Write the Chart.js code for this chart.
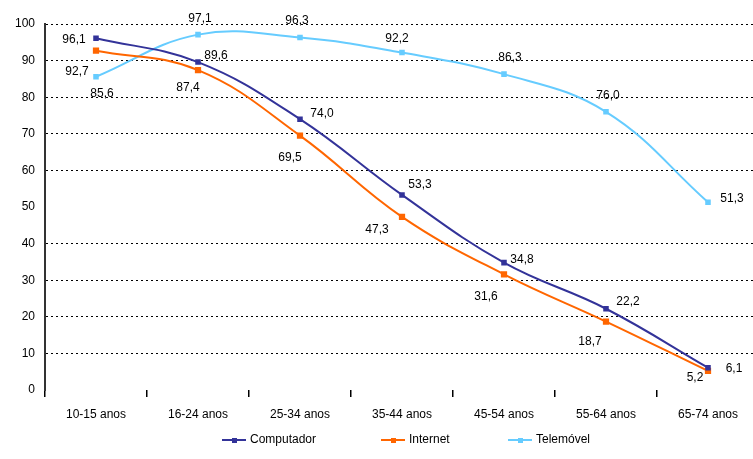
<!DOCTYPE html>
<html>
<head>
<meta charset="utf-8">
<script src="https://cdn.jsdelivr.net/npm/chart.js@4/dist/chart.umd.min.js"></script>
<style>
  html, body { margin: 0; padding: 0; background: #fff; overflow: hidden; }
  .chart { position: absolute; left: 0; top: 0; width: 765px; height: 459px; }
</style>
</head>
<body>
<div class='chart'><canvas id='chart'></canvas></div>
<script>
const categories = ['10-15 anos', '16-24 anos', '25-34 anos', '35-44 anos', '45-54 anos', '55-64 anos', '65-74 anos']
const computador = [96.1, 89.6, 74.0, 53.3, 34.8, 22.2, 6.1]
const internet = [92.7, 87.4, 69.5, 47.3, 31.6, 18.7, 5.2]
const telemovel = [85.6, 97.1, 96.3, 92.2, 86.3, 76.0, 51.3]
const seriesNames = ['Computador', 'Internet', 'Telemóvel']
const yTicks = [0, 10, 20, 30, 40, 50, 60, 70, 80, 90, 100]

const font = "'Liberation Sans', Arial, sans-serif"
const colors = ['#333399', '#ff6600', '#66ccff']

// label offsets from each point, per series
const labelOffsets = [
  [[-22, 1], [18, -6], [22, -5], [18, -10], [18, -3], [22, -7], [26, 1]],
  [[-19, 21], [-10, 18], [-10, 22], [-25, 13], [-18, 22], [-16, 20], [-13, 7]],
  [[6, 17], [2, -16], [-3, -17], [-5, -14], [6, -16], [2, -16], [24, -4]],
]

const fmt = (v) => v.toFixed(1).replace('.', ',')

const dataLabels = {
  id: 'dataLabels',
  afterDatasetsDraw(chart) {
    const c = chart.ctx
    c.save()
    c.font = '12px ' + font
    c.fillStyle = '#000'
    c.textAlign = 'center'
    c.textBaseline = 'middle'
    chart.data.datasets.forEach((ds, i) => {
      chart.getDatasetMeta(i).data.forEach((pt, j) => {
        const [dx, dy] = labelOffsets[i][j]
        c.fillText(fmt(ds.data[j]), pt.x + dx, pt.y + dy)
      })
    })
    c.restore()
  },
}

const legendPos = [222, 381, 508]
const bottomLegend = {
  id: 'bottomLegend',
  afterDraw(chart) {
    const c = chart.ctx
    const y = 440
    c.save()
    c.font = '12px ' + font
    c.textBaseline = 'middle'
    c.fillStyle = '#000'
    chart.data.datasets.forEach((ds, i) => {
      const x = legendPos[i]
      c.strokeStyle = ds.borderColor
      c.lineWidth = 2
      c.beginPath()
      c.moveTo(x, y)
      c.lineTo(x + 24, y)
      c.stroke()
      c.fillStyle = ds.borderColor
      c.fillRect(x + 10, y - 2, 5, 5)
      c.fillStyle = '#000'
      c.fillText(ds.label, x + 28, y)
    })
    c.restore()
  },
}

const makeSet = (label, data, color, r) => ({
  label,
  data,
  borderColor: color,
  backgroundColor: color,
  borderWidth: 2,
  pointStyle: 'rect',
  pointRadius: r,
  pointHoverRadius: r,
  tension: 0.4,
  fill: false,
})

new Chart(document.getElementById('chart'), {
  type: 'line',
  data: {
    labels: categories,
    datasets: [
      makeSet(seriesNames[0], computador, colors[0], 2.5),
      makeSet(seriesNames[1], internet, colors[1], 3),
      makeSet(seriesNames[2], telemovel, colors[2], 2.5),
    ],
  },
  options: {
    responsive: true,
    maintainAspectRatio: false,
    animation: false,
    layout: { padding: { top: 24, right: 6, bottom: 0, left: 0 } },
    plugins: { legend: { display: false }, tooltip: { enabled: false } },
    scales: {
      x: {
        offset: true,
        border: { display: false },
        grid: {
          offset: true,
          drawOnChartArea: false,
          tickLength: 7,
          color: '#000',
          lineWidth: 1.5,
        },
        ticks: {
          color: '#000',
          font: { family: font, size: 12 },
          padding: 10,
          maxRotation: 0,
          autoSkip: false,
        },
        afterFit: (axis) => { axis.height = 69 },
      },
      y: {
        min: 0,
        max: 100,
        afterBuildTicks: (axis) => { axis.ticks = yTicks.map((v) => ({ value: v })) },
        border: { display: true, color: '#333', width: 2, dash: [2, 3] },
        grid: {
          drawTicks: false,
          color: (ctx) => (ctx.tick && (ctx.tick.value === 0 || ctx.tick.value === 50) ? 'rgba(0,0,0,0)' : '#000'),
          lineWidth: 1,
        },
        ticks: {
          color: '#000',
          font: { family: font, size: 12 },
          padding: 10,
        },
        afterFit: (axis) => { axis.width = 45 },
      },
    },
  },
  plugins: [dataLabels, bottomLegend],
})
</script>
</body>
</html>
